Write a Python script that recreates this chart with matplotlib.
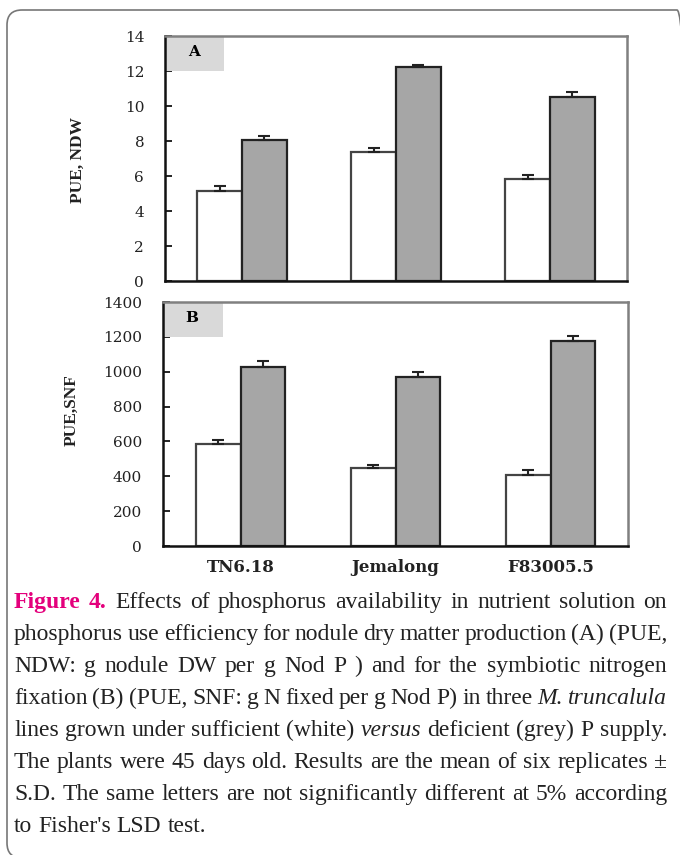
import numpy as np
import matplotlib
matplotlib.use('Agg')
import matplotlib.pyplot as plt
from matplotlib.patches import Rectangle, FancyBboxPatch
from matplotlib.transforms import IdentityTransform

# data
lines_names = ['TN6.18', 'Jemalong', 'F83005.5']
ndw_suff = [5.15, 7.35, 5.83]
ndw_suff_sd = [0.30, 0.25, 0.23]
ndw_def = [8.05, 12.25, 10.5]
ndw_def_sd = [0.25, 0.10, 0.28]
snf_suff = [585, 446, 407]
snf_suff_sd = [25, 18, 28]
snf_def = [1025, 971, 1178]
snf_def_sd = [36, 28, 28]

caption = [
    "**Figure **4. Effects of phosphorus availability in nutrient solution on",
    "phosphorus use efficiency for nodule dry matter production (A) (PUE,",
    "NDW: g nodule DW per g Nod P ) and for the symbiotic nitrogen",
    "fixation (B) (PUE, SNF: g N fixed per g Nod P) in three _M. _truncalula",
    "lines grown under sufficient (white) _versus deficient (grey) P supply.",
    "The plants were 45 days old. Results are the mean of six replicates \u00b1",
    "S.D. The same letters are not significantly different at 5% according",
    "to Fisher's LSD test.",
]

W, H = 680, 855
fig = plt.figure(figsize=(W / 100, H / 100), dpi=100)

def px_axes(l, t, r, b):
    return fig.add_axes([l / W, 1 - b / H, (r - l) / W, (b - t) / H])

ax1 = px_axes(165, 36, 627, 281)
ax2 = px_axes(163, 302, 628, 546)

x = np.arange(3)
bw = 0.29

def draw_panel(ax, suff, suff_sd, deff, deff_sd, ymax, step, letter):
    ax.bar(x - bw / 2, suff, bw, color='white', edgecolor='#444444', linewidth=1.6,
           yerr=[[0] * 3, suff_sd], error_kw=dict(ecolor='#222222', elinewidth=1.5, capsize=4, capthick=1.5))
    ax.bar(x + bw / 2, deff, bw, color='#a6a6a6', edgecolor='#222222', linewidth=1.6,
           yerr=[[0] * 3, deff_sd], error_kw=dict(ecolor='#222222', elinewidth=1.5, capsize=4, capthick=1.5))
    ax.set_xlim(-0.5, 2.5)
    ax.set_ylim(0, ymax)
    ax.set_yticks(np.arange(0, ymax + 1, step))
    ax.tick_params(axis='y', direction='in', length=5, width=1.2, pad=15, labelcolor='#222222')
    ax.tick_params(axis='x', length=0)
    for lab in ax.get_yticklabels():
        lab.set_fontfamily('DejaVu Serif')
        lab.set_fontsize(11)
    ax.spines['left'].set_color('#111111')
    ax.spines['bottom'].set_color('#111111')
    ax.spines['top'].set_color('#808080')
    ax.spines['right'].set_color('#808080')
    for s in ax.spines.values():
        s.set_linewidth(1.8)
    ax.add_patch(Rectangle((0, 1 - 0.143), 0.128, 0.143, transform=ax.transAxes,
                           facecolor='#d9d9d9', edgecolor='none', zorder=2))
    ax.text(0.062, 0.935, letter, transform=ax.transAxes, ha='center', va='center',
            fontfamily='DejaVu Serif', fontweight='bold', fontsize=11, zorder=3)

draw_panel(ax1, ndw_suff, ndw_suff_sd, ndw_def, ndw_def_sd, 14, 2, 'A')
draw_panel(ax2, snf_suff, snf_suff_sd, snf_def, snf_def_sd, 1400, 200, 'B')
ax1.set_xticks([])
ax2.set_xticks(x)
ax2.set_xticklabels(lines_names, fontfamily='DejaVu Serif', fontweight='bold', fontsize=12,
                    color='#222222')
ax2.tick_params(axis='x', pad=9)

fig.text(78 / W, 1 - 160 / H, 'PUE, NDW', rotation=90, ha='center', va='center',
         fontfamily='Liberation Serif', fontweight='bold', fontsize=12.5, color='#222222')
fig.text(72 / W, 1 - 410 / H, 'PUE,SNF', rotation=90, ha='center', va='center',
         fontfamily='Liberation Serif', fontweight='bold', fontsize=12.5, color='#222222')

# rounded frame
frame = FancyBboxPatch((7, H - 858), 692 - 7, 858 - 10, boxstyle='round,pad=0,rounding_size=15',
                       transform=IdentityTransform(), facecolor='none', edgecolor='#777777', linewidth=1.2)
fig.add_artist(frame)

# justified caption
fig.canvas.draw()
renderer = fig.canvas.get_renderer()
left, right = 14, 667
base0, lh = 608, 32

def make_words(line, i, fs):
    arts = []
    for w in line.split(' '):
        kw = dict(fontfamily='Liberation Serif', fontsize=fs, color='#222222')
        if w.startswith('**'):
            w = w[2:]
            kw.update(color='#e4007c', fontweight='bold')
        elif w.startswith('_'):
            w = w[1:]
            kw.update(style='italic')
        if w.startswith('4.') and i == 0:
            kw.update(color='#e4007c', fontweight='bold')
        arts.append(fig.text(0, 0, w, transform=IdentityTransform(), va='baseline', ha='left', **kw))
    return arts

for i, line in enumerate(caption):
    fs = 17
    while True:
        arts = make_words(line, i, fs)
        widths = [a.get_window_extent(renderer).width for a in arts]
        total = sum(widths)
        if i == len(caption) - 1:
            gap = fs * 0.25 * 100 / 72
            break
        gap = (right - left - total) / (len(arts) - 1)
        if gap >= 3.5:
            break
        for a in arts:
            a.remove()
        fs -= 0.25
    xp = left
    for a, wd in zip(arts, widths):
        a.set_position((xp, H - (base0 + i * lh)))
        xp += wd + gap

fig.savefig('out.png', dpi=100)
